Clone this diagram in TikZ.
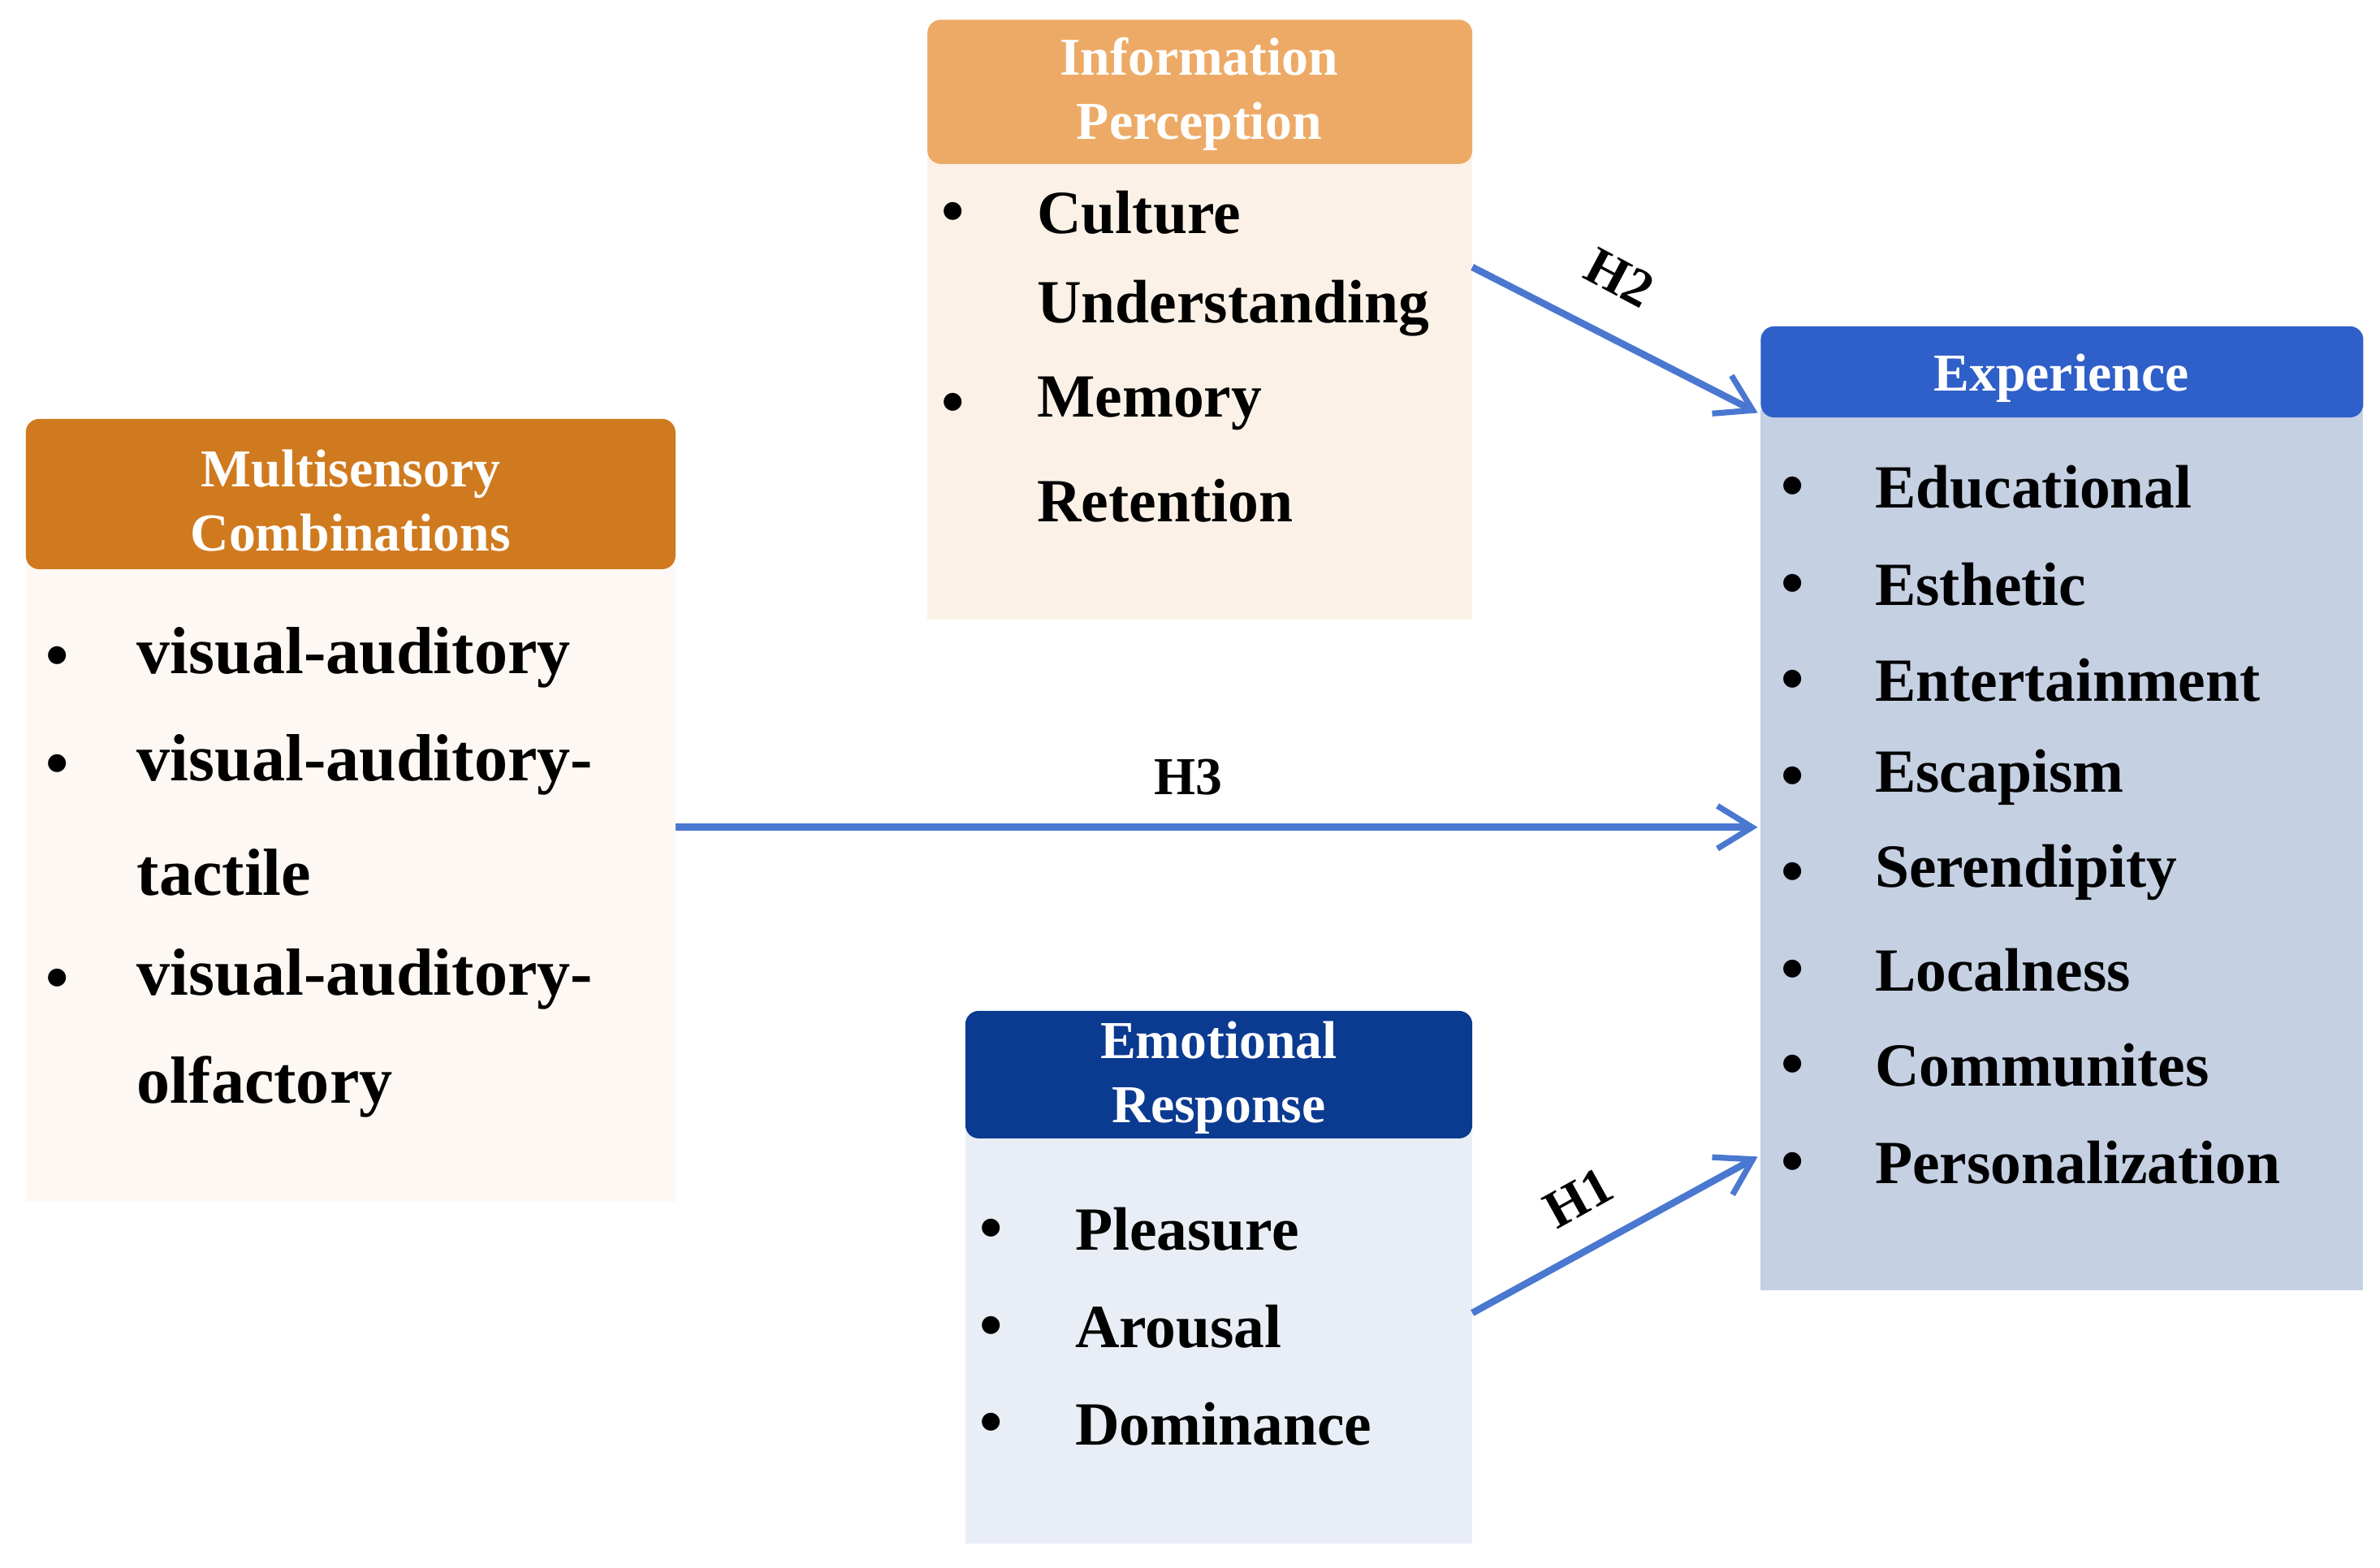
\documentclass[tikz,border=0pt]{standalone}
\usepackage{fontspec}
\setmainfont{Liberation Serif}
\usetikzlibrary{arrows.meta}
\definecolor{msH}{HTML}{D07A1F}\definecolor{msB}{HTML}{FDF8F3}
\definecolor{ipH}{HTML}{EDAA66}\definecolor{ipB}{HTML}{FBF1E6}
\definecolor{exH}{HTML}{2F5FC8}\definecolor{exB}{HTML}{C5D0E3}
\definecolor{erH}{HTML}{0B3A91}\definecolor{erB}{HTML}{E9EDF5}
\definecolor{arr}{HTML}{4A78D0}
\begin{document}
\begin{tikzpicture}[x=0.02cm,y=-0.02cm,
 hd/.style={font=\fontsize{20}{24}\selectfont\bfseries,text=white,align=center},
 it/.style={font=\fontsize{23}{27}\selectfont\bfseries,anchor=west,inner sep=0},
 itL/.style={font=\fontsize{25}{29}\selectfont\bfseries,anchor=west,inner sep=0},
 bu/.style={inner sep=0,font=\fontsize{17}{20}\selectfont},
 ar/.style={draw=arr,line width=2.6pt,-{Straight Barb[length=13pt,width=16pt,line width=2.2pt]}},
 lb/.style={font=\fontsize{20}{24}\selectfont\bfseries}]
\useasboundingbox (0,0) rectangle (1568,1033);
\fill[white] (0,0) rectangle (1568,1033);
% Multisensory
\fill[msB] (17,370) rectangle (445,792);
\fill[msH,rounded corners=5pt] (17,276) rectangle (445,375);
\node[hd] (msh) at (231,330) {Multisensory\\[0pt]Combinations};
\foreach \y/\t in {433/visual-auditory,504/visual-auditory-,575/tactile,645/visual-auditory-,716/olfactory}{\node[itL] at (90,\y) {\t};}
\foreach \y in {433,504,645}{\node[bu] at (38,\y) {$\bullet$};}
% Information Perception
\fill[ipB] (611,103) rectangle (970,408);
\fill[ipH,rounded corners=5pt] (611,13) rectangle (970,108);
\node[hd] (iph) at (790,62) {Information\\[0pt]Perception};
\foreach \y/\t in {140/Culture,203/Understanding,266/Memory,330/Retention}{\node[it] at (683,\y) {\t};}
\foreach \y in {140,266}{\node[bu] at (628,\y) {$\bullet$};}
% Experience
\fill[exB] (1160,270) rectangle (1557,850);
\fill[exH,rounded corners=5pt] (1160,215) rectangle (1557,275);
\node[hd] (exh) at (1358,249) {Experience};
\foreach \y/\t in {321/Educational,385/Esthetic,448/Entertainment,512/Escapism,575/Serendipity,639/Localness,702/Communites,766/Personalization}{\node[it] at (1235,\y) {\t}; \node[bu] at (1181,\y) {$\bullet$};}
% Emotional
\fill[erB] (636,745) rectangle (970,1017);
\fill[erH,rounded corners=5pt] (636,666) rectangle (970,750);
\node[hd] (erh) at (803,710) {Emotional\\[0pt]Response};
\foreach \y/\t in {810/Pleasure,874/Arousal,938/Dominance}{\node[it] at (708,\y) {\t}; \node[bu] at (653,\y) {$\bullet$};}
% connectors
\coordinate (a3) at (445,545); \coordinate (b3) at (1158,545);
\coordinate (a2) at (970,176); \coordinate (b2) at (1158,272);
\coordinate (a1) at (970,865); \coordinate (b1) at (1158,762);
\draw[ar] (a3) -- (b3);
\draw[ar] (a2) -- (b2);
\draw[ar] (a1) -- (b1);
\node[lb] at (783,512) {H3};
\node[lb,rotate=-28] at (1067,183) {H2};
\node[lb,rotate=29] at (1040,789) {H1};
\end{tikzpicture}
\end{document}
